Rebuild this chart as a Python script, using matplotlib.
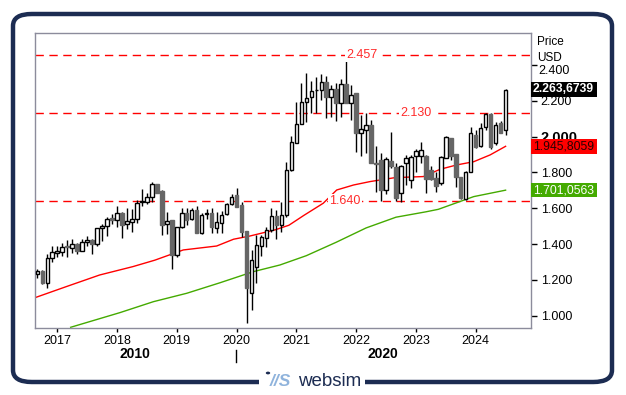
import matplotlib
matplotlib.use("Agg")
import matplotlib.pyplot as plt
from matplotlib.patches import Rectangle, FancyBboxPatch, Circle
from matplotlib.lines import Line2D
import pandas as pd

plt.rcParams['font.family'] = ['Liberation Sans', 'DejaVu Sans']

# ---------------- data ----------------
months = pd.date_range('2016-09-01', periods=95, freq='MS')

opens = [1.235, 1.250, 1.181, 1.321, 1.352, 1.358, 1.391, 1.380, 1.400, 1.363,
         1.413, 1.423, 1.402, 1.488, 1.500, 1.544, 1.533, 1.572, 1.511, 1.525,
         1.539, 1.634, 1.637, 1.665, 1.735, 1.698, 1.511, 1.535, 1.339, 1.494,
         1.575, 1.539, 1.590, 1.460, 1.568, 1.572, 1.488, 1.520, 1.566, 1.622,
         1.674, 1.618, 1.473, 1.125, 1.274, 1.389, 1.432, 1.479, 1.557, 1.507,
         1.560, 1.814, 1.967, 2.071, 2.196, 2.220, 2.258, 2.260, 2.304, 2.220,
         2.265, 2.190, 2.293, 2.190, 2.246, 2.022, 2.037, 2.065, 1.855, 1.868,
         1.700, 1.864, 1.830, 1.684, 1.855, 1.758, 1.890, 1.892, 1.892, 1.814,
         1.768, 1.743, 1.879, 1.991, 1.903, 1.777, 1.650, 1.804, 2.009, 1.948,
         2.056, 2.127, 1.966, 2.078, 2.037]
highs = [1.260, 1.255, 1.343, 1.389, 1.389, 1.408, 1.421, 1.427, 1.408, 1.427,
         1.445, 1.430, 1.492, 1.510, 1.551, 1.568, 1.613, 1.581, 1.603, 1.594,
         1.646, 1.708, 1.684, 1.745, 1.736, 1.702, 1.581, 1.535, 1.497, 1.600,
         1.600, 1.600, 1.613, 1.575, 1.594, 1.600, 1.581, 1.587, 1.631, 1.680,
         1.712, 1.637, 1.473, 1.367, 1.451, 1.451, 1.494, 1.600, 1.590, 1.637,
         1.860, 2.004, 2.196, 2.298, 2.354, 2.313, 2.335, 2.348, 2.339, 2.289,
         2.298, 2.321, 2.457, 2.289, 2.246, 2.121, 2.131, 2.093, 1.948, 1.910,
         1.886, 2.028, 1.850, 1.842, 1.898, 1.900, 1.930, 1.972, 1.900, 1.836,
         1.804, 1.890, 2.004, 1.991, 1.903, 1.777, 1.810, 2.056, 2.037, 2.075,
         2.131, 2.130, 2.084, 2.090, 2.264]
lows = [1.210, 1.177, 1.153, 1.302, 1.330, 1.333, 1.330, 1.349, 1.343, 1.363,
        1.390, 1.346, 1.389, 1.419, 1.447, 1.512, 1.497, 1.432, 1.483, 1.469,
        1.520, 1.615, 1.626, 1.637, 1.684, 1.451, 1.455, 1.261, 1.326, 1.488,
        1.507, 1.535, 1.460, 1.455, 1.539, 1.464, 1.464, 1.464, 1.563, 1.618,
        1.606, 1.441, 0.961, 1.032, 1.181, 1.333, 1.382, 1.469, 1.428, 1.470,
        1.550, 1.810, 1.965, 2.070, 2.084, 2.131, 2.131, 2.205, 2.103, 2.112,
        2.089, 2.112, 2.190, 2.093, 1.916, 1.892, 1.907, 1.851, 1.690, 1.640,
        1.680, 1.823, 1.640, 1.637, 1.730, 1.712, 1.800, 1.851, 1.684, 1.758,
        1.693, 1.730, 1.879, 1.870, 1.721, 1.650, 1.645, 1.804, 1.935, 1.940,
        2.037, 1.930, 1.955, 2.019, 2.010]
closes = [1.250, 1.182, 1.321, 1.354, 1.361, 1.384, 1.382, 1.400, 1.363, 1.413,
          1.423, 1.400, 1.488, 1.503, 1.540, 1.535, 1.572, 1.507, 1.529, 1.540,
          1.628, 1.641, 1.665, 1.734, 1.687, 1.507, 1.529, 1.339, 1.494, 1.572,
          1.535, 1.590, 1.460, 1.563, 1.575, 1.494, 1.522, 1.563, 1.624, 1.661,
          1.609, 1.469, 1.153, 1.311, 1.395, 1.441, 1.479, 1.557, 1.507, 1.560,
          1.814, 1.972, 2.071, 2.196, 2.214, 2.257, 2.262, 2.304, 2.220, 2.265,
          2.190, 2.293, 2.190, 2.233, 2.022, 2.041, 2.065, 1.855, 1.845, 1.700,
          1.877, 1.836, 1.655, 1.838, 1.879, 1.888, 1.920, 1.926, 1.762, 1.762,
          1.725, 1.885, 1.997, 1.892, 1.777, 1.656, 1.804, 2.019, 1.944, 2.047,
          2.127, 1.940, 2.065, 2.019, 2.263]

# moving averages, sampled at month offsets from Sep 2016
ma_red_idx = [-0.5, 5.8, 12.5, 19.2, 23.6, 29.3, 36.0, 39.4, 42.7, 47.7, 50.5, 53.5, 57.4, 60.1, 63.5, 66.8, 71.8, 77.5, 80.9, 84.2, 87.6, 90.9, 94.0]
ma_red_val = [1.100, 1.162, 1.227, 1.274, 1.310, 1.367, 1.389, 1.427, 1.445, 1.479, 1.505, 1.560, 1.628, 1.702, 1.730, 1.749, 1.771, 1.777, 1.818, 1.842, 1.860, 1.898, 1.946]
ma_green_idx = [6.7, 16.6, 23.3, 30.0, 36.7, 43.4, 48.7, 54.0, 60.0, 66.0, 72.0, 78.0, 80.5, 87.6, 94.0]
ma_green_val = [0.935, 1.017, 1.078, 1.125, 1.184, 1.246, 1.283, 1.335, 1.410, 1.490, 1.550, 1.580, 1.594, 1.665, 1.701]

levels = [2.457, 2.130, 1.640]
level_labels = ['2.457', '2.130', '1.640']
last_values = [2.2636739, 1.9458059, 1.7010563]
last_labels = ['2.263,6739', '1.945,8059', '1.701,0563']
yticks = [1.0, 1.2, 1.4, 1.6, 1.8, 2.0, 2.2, 2.4]
ytick_labels = ['1.000', '1.200', '1.400', '1.600', '1.800', '2.000', '2.200', '2.400']

# ---------------- figure ----------------
W, H = 626, 395
fig = plt.figure(figsize=(W / 100, H / 100), dpi=100)
fig.patch.set_facecolor('white')

def fx(px):
    return px / W

def fy(py):
    return 1 - py / H

navy = '#1c2c52'
frame = FancyBboxPatch((fx(13), fy(382)), fx(599), (382 - 14) / H,
                       boxstyle="round,pad=0,rounding_size=0.03",
                       transform=fig.transFigure, fill=False,
                       edgecolor=navy, linewidth=3.2, zorder=1)
fig.patches.append(frame)
fig.patches.append(Rectangle((fx(259), fy(388)), fx(106), 12 / H,
                             transform=fig.transFigure, facecolor='white',
                             edgecolor='none', zorder=2))

ax = fig.add_axes([fx(35), fy(328), fx(531 - 35), (328 - 33) / H])
ax.set_facecolor('white')
for s in ax.spines.values():
    s.set_color('#8c8c9c')
    s.set_linewidth(1.0)

x = list(range(len(months)))
bw = 0.7
for i in x:
    o, h, l, c = opens[i], highs[i], lows[i], closes[i]
    ax.plot([i, i], [l, h], color='black', linewidth=1.0, zorder=3,
            solid_capstyle='butt')
    up = c >= o
    bottom = min(o, c)
    height = max(abs(c - o), 0.003)
    if up:
        ax.add_patch(Rectangle((i - bw / 2, bottom), bw, height,
                               facecolor='white', edgecolor='black',
                               linewidth=1.0, zorder=4))
    else:
        ax.add_patch(Rectangle((i - bw / 2, bottom), bw, height,
                               facecolor='#666666', edgecolor='#666666',
                               linewidth=1.0, zorder=4))

ax.plot(ma_red_idx, ma_red_val, color='#ff0000', linewidth=1.0, zorder=2)
ax.plot(ma_green_idx, ma_green_val, color='#44aa00', linewidth=1.0, zorder=2)

label_xfrac = [0.659, 0.768, 0.625]
for lv, lt, xf in zip(levels, level_labels, label_xfrac):
    ax.axhline(lv, color='#ff0000', linewidth=1.0, linestyle=(0, (6, 4)), zorder=1)
    ax.text(xf, lv, lt, transform=ax.get_yaxis_transform(), color='#ff2a2a',
            fontsize=9, ha='center', va='center', zorder=5,
            bbox=dict(facecolor='white', edgecolor='none', pad=1.0))

ax.set_xlim(-0.46, 99.1)
ax.set_ylim(0.931, 2.579)

jan_idx = [i for i, d in enumerate(months) if d.month == 1]
ax.set_xticks(jan_idx)
ax.set_xticklabels([str(months[i].year) for i in jan_idx], fontsize=9)
ax.tick_params(axis='x', direction='out', length=3, width=1, pad=2, colors='black')

ax.yaxis.tick_right()
ax.set_yticks(yticks)
ax.set_yticklabels([('' if t == '2.400' else t) for t in ytick_labels], fontsize=9)
ax.tick_params(axis='y', direction='out', length=4, width=1, pad=3, colors='black')
for t in ax.get_yticklabels():
    if t.get_text() == '2.000':
        t.set_fontweight('bold')
        t.set_fontsize(10.5)
# top tick label sits a little lower, below the unit caption
ax.annotate('2.400', xy=(1.0, 2.4), xycoords=ax.get_yaxis_transform(),
            xytext=(5.3, -4.5), textcoords='offset points', ha='left', va='center',
            fontsize=9, annotation_clip=False)

fig.text(fx(537), fy(42), 'Price', fontsize=8.5, ha='left', va='center')
fig.text(fx(537), fy(58), 'USD', fontsize=8.5, ha='left', va='center')

# current-value boxes
box_cols = ['black', '#ff0000', '#44aa00']
txt_cols = ['white', '#2a0000', 'white']
txt_w = ['bold', 'normal', 'normal']
trans = ax.get_yaxis_transform()
for v, lab, bc, tc, tw in zip(last_values, last_labels, box_cols, txt_cols, txt_w):
    ax.add_patch(Rectangle((1.0, v - 0.040), 66 / 496, 0.080, transform=trans,
                           facecolor=bc, edgecolor='none', clip_on=False, zorder=10))
    ax.annotate(lab, xy=(1.0, v), xycoords=trans,
                xytext=(1.2, 0), textcoords='offset points',
                ha='left', va='center', fontsize=8.7, color=tc, fontweight=tw,
                annotation_clip=False, zorder=11)

# decade row
fig.text(fx(135), fy(354), '2010', fontsize=10, fontweight='bold', ha='center', va='center')
fig.text(fx(383), fy(354), '2020', fontsize=10, fontweight='bold', ha='center', va='center')
fig.lines.append(Line2D([fx(236), fx(236)], [fy(350), fy(362)], transform=fig.transFigure,
                        color='black', linewidth=1.0))

# logo
fig.text(fx(298), fy(381), 'websim', fontsize=13.5, color=navy, ha='left', va='center')
fig.text(fx(270), fy(381), '//S', fontsize=12.5, color='#8fb3dc', ha='left', va='center',
         fontweight='bold', style='italic')
fig.patches.append(Circle((fx(268), fy(373)), 2.2 / W, transform=fig.transFigure,
                          facecolor=navy, edgecolor='none'))

fig.savefig('out.png', dpi=100, facecolor='white')
